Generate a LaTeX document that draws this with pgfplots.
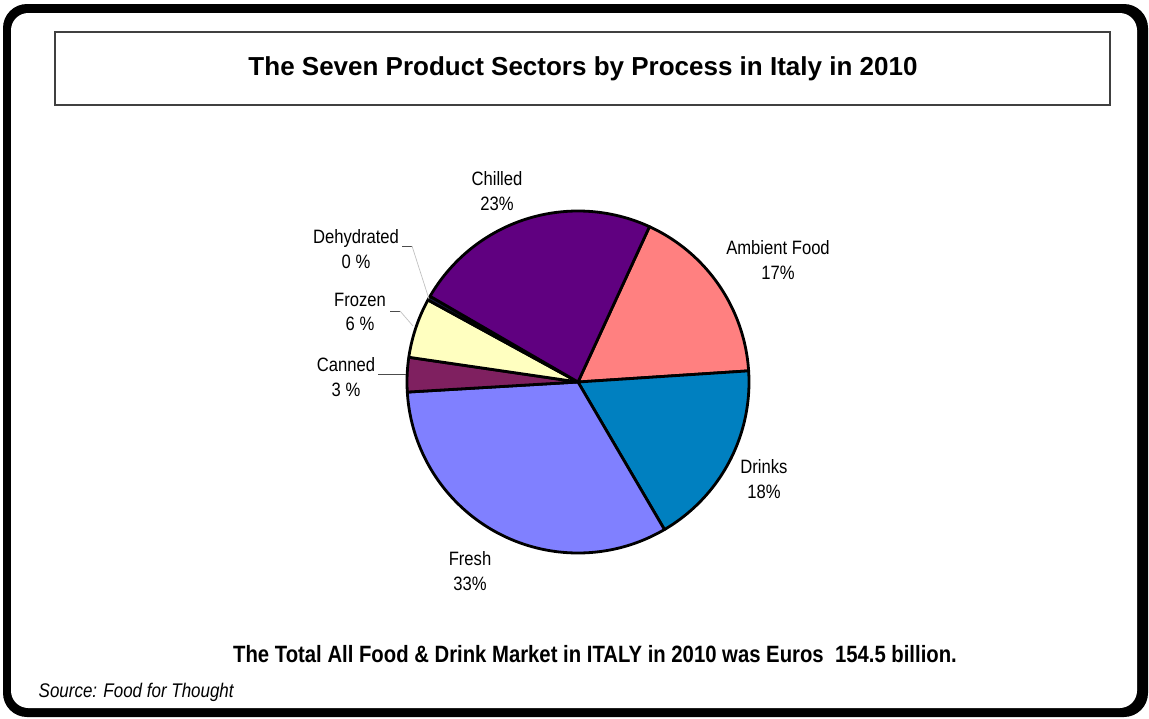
\documentclass[border=0pt]{standalone}
\usepackage{pgfplots}
\pgfplotsset{compat=1.18}
\usepackage{fontspec}
\setmainfont{Liberation Sans}
\newfontfamily\narrowfont[FakeStretch=0.86]{Liberation Sans}

\definecolor{ambient}{HTML}{FF8080}
\definecolor{drinks}{HTML}{0080C0}
\definecolor{fresh}{HTML}{8080FF}
\definecolor{canned}{HTML}{7F2060}
\definecolor{frozen}{HTML}{FFFFC0}
\definecolor{dehydrated}{HTML}{1A1A40}
\definecolor{chilled}{HTML}{600080}

% one wedge per call: share in percent, fill colour; drawn clockwise
\def\pieAcc{65.3}
\newcommand\slice[2]{%
  \pgfmathsetmacro\sStart{\pieAcc-3.6*#1}%
  \edef\doslice{\noexpand\addplot[draw=black, line width=2.1pt, line join=round,
    fill=#2, domain=\sStart:\pieAcc, samples=90] {1} -- (axis cs:0,0) -- cycle;}%
  \doslice
  \global\let\pieAcc\sStart}

\begin{document}
\begin{tikzpicture}[x=0.75pt, y={(0,-0.75pt)}]
  \path[use as bounding box] (0,0) rectangle (1149,718);
  % frame with shadow
  \fill[black, rounded corners=18pt] (3,4) rectangle (1148,717);
  \fill[white, rounded corners=13pt] (11,13) rectangle (1137,708);
  % title box
  \draw[black!75, line width=0.8pt] (55,32) rectangle (1110,105);
  \node[font=\bfseries\fontsize{19.5}{23}\selectfont] at (583,69)
    {The Seven Product Sectors by Process in Italy in 2010};

  \coordinate (piecenter) at (578,382);
  \begin{axis}[
      at={(piecenter)}, anchor=origin,
      x=128.25pt, y=128.25pt,
      xmin=-1, xmax=1, ymin=-1, ymax=1,
      hide axis, clip=false,
      data cs=polar,
    ]
    \slice{17.1}{ambient}
    \slice{17.6}{drinks}
    \slice{32.5}{fresh}
    \slice{3.25}{canned}
    \slice{5.65}{frozen}
    \slice{0.4}{dehydrated}
    \slice{23.5}{chilled}
  \end{axis}

  % leader lines
  \draw[black!70, line width=0.7pt] (402,246) -- (412,246);
  \draw[black!25, line width=0.5pt] (412,246) -- (429,299);
  \draw[black!70, line width=0.7pt] (390,311) -- (400,311);
  \draw[black!25, line width=0.5pt] (400,311) -- (413,326);
  \draw[black!70, line width=0.7pt] (378,374) -- (406,374);

  % labels
  \begin{scope}[every node/.style={align=center,
      font=\narrowfont\fontsize{14.5}{18.5}\selectfont}]
    \node at (497,191) {Chilled\\23\%};
    \node at (778,260) {Ambient Food\\17\%};
    \node at (764,479) {Drinks\\18\%};
    \node at (470,571) {Fresh\\33\%};
    \node at (346,377) {Canned\\3 \%};
    \node at (360,312) {Frozen\\6 \%};
    \node at (356,249) {Dehydrated\\0 \%};
  \end{scope}

  % footer
  \node[font=\narrowfont\bfseries\fontsize{17.7}{21}\selectfont] at (595,654)
    {The Total All Food \& Drink Market in ITALY in 2010 was Euros~~154.5 billion.};
  \node[anchor=west, font=\narrowfont\itshape\fontsize{14.8}{17}\selectfont] at (34,692)
    {Source: Food for Thought};
\end{tikzpicture}
\end{document}
